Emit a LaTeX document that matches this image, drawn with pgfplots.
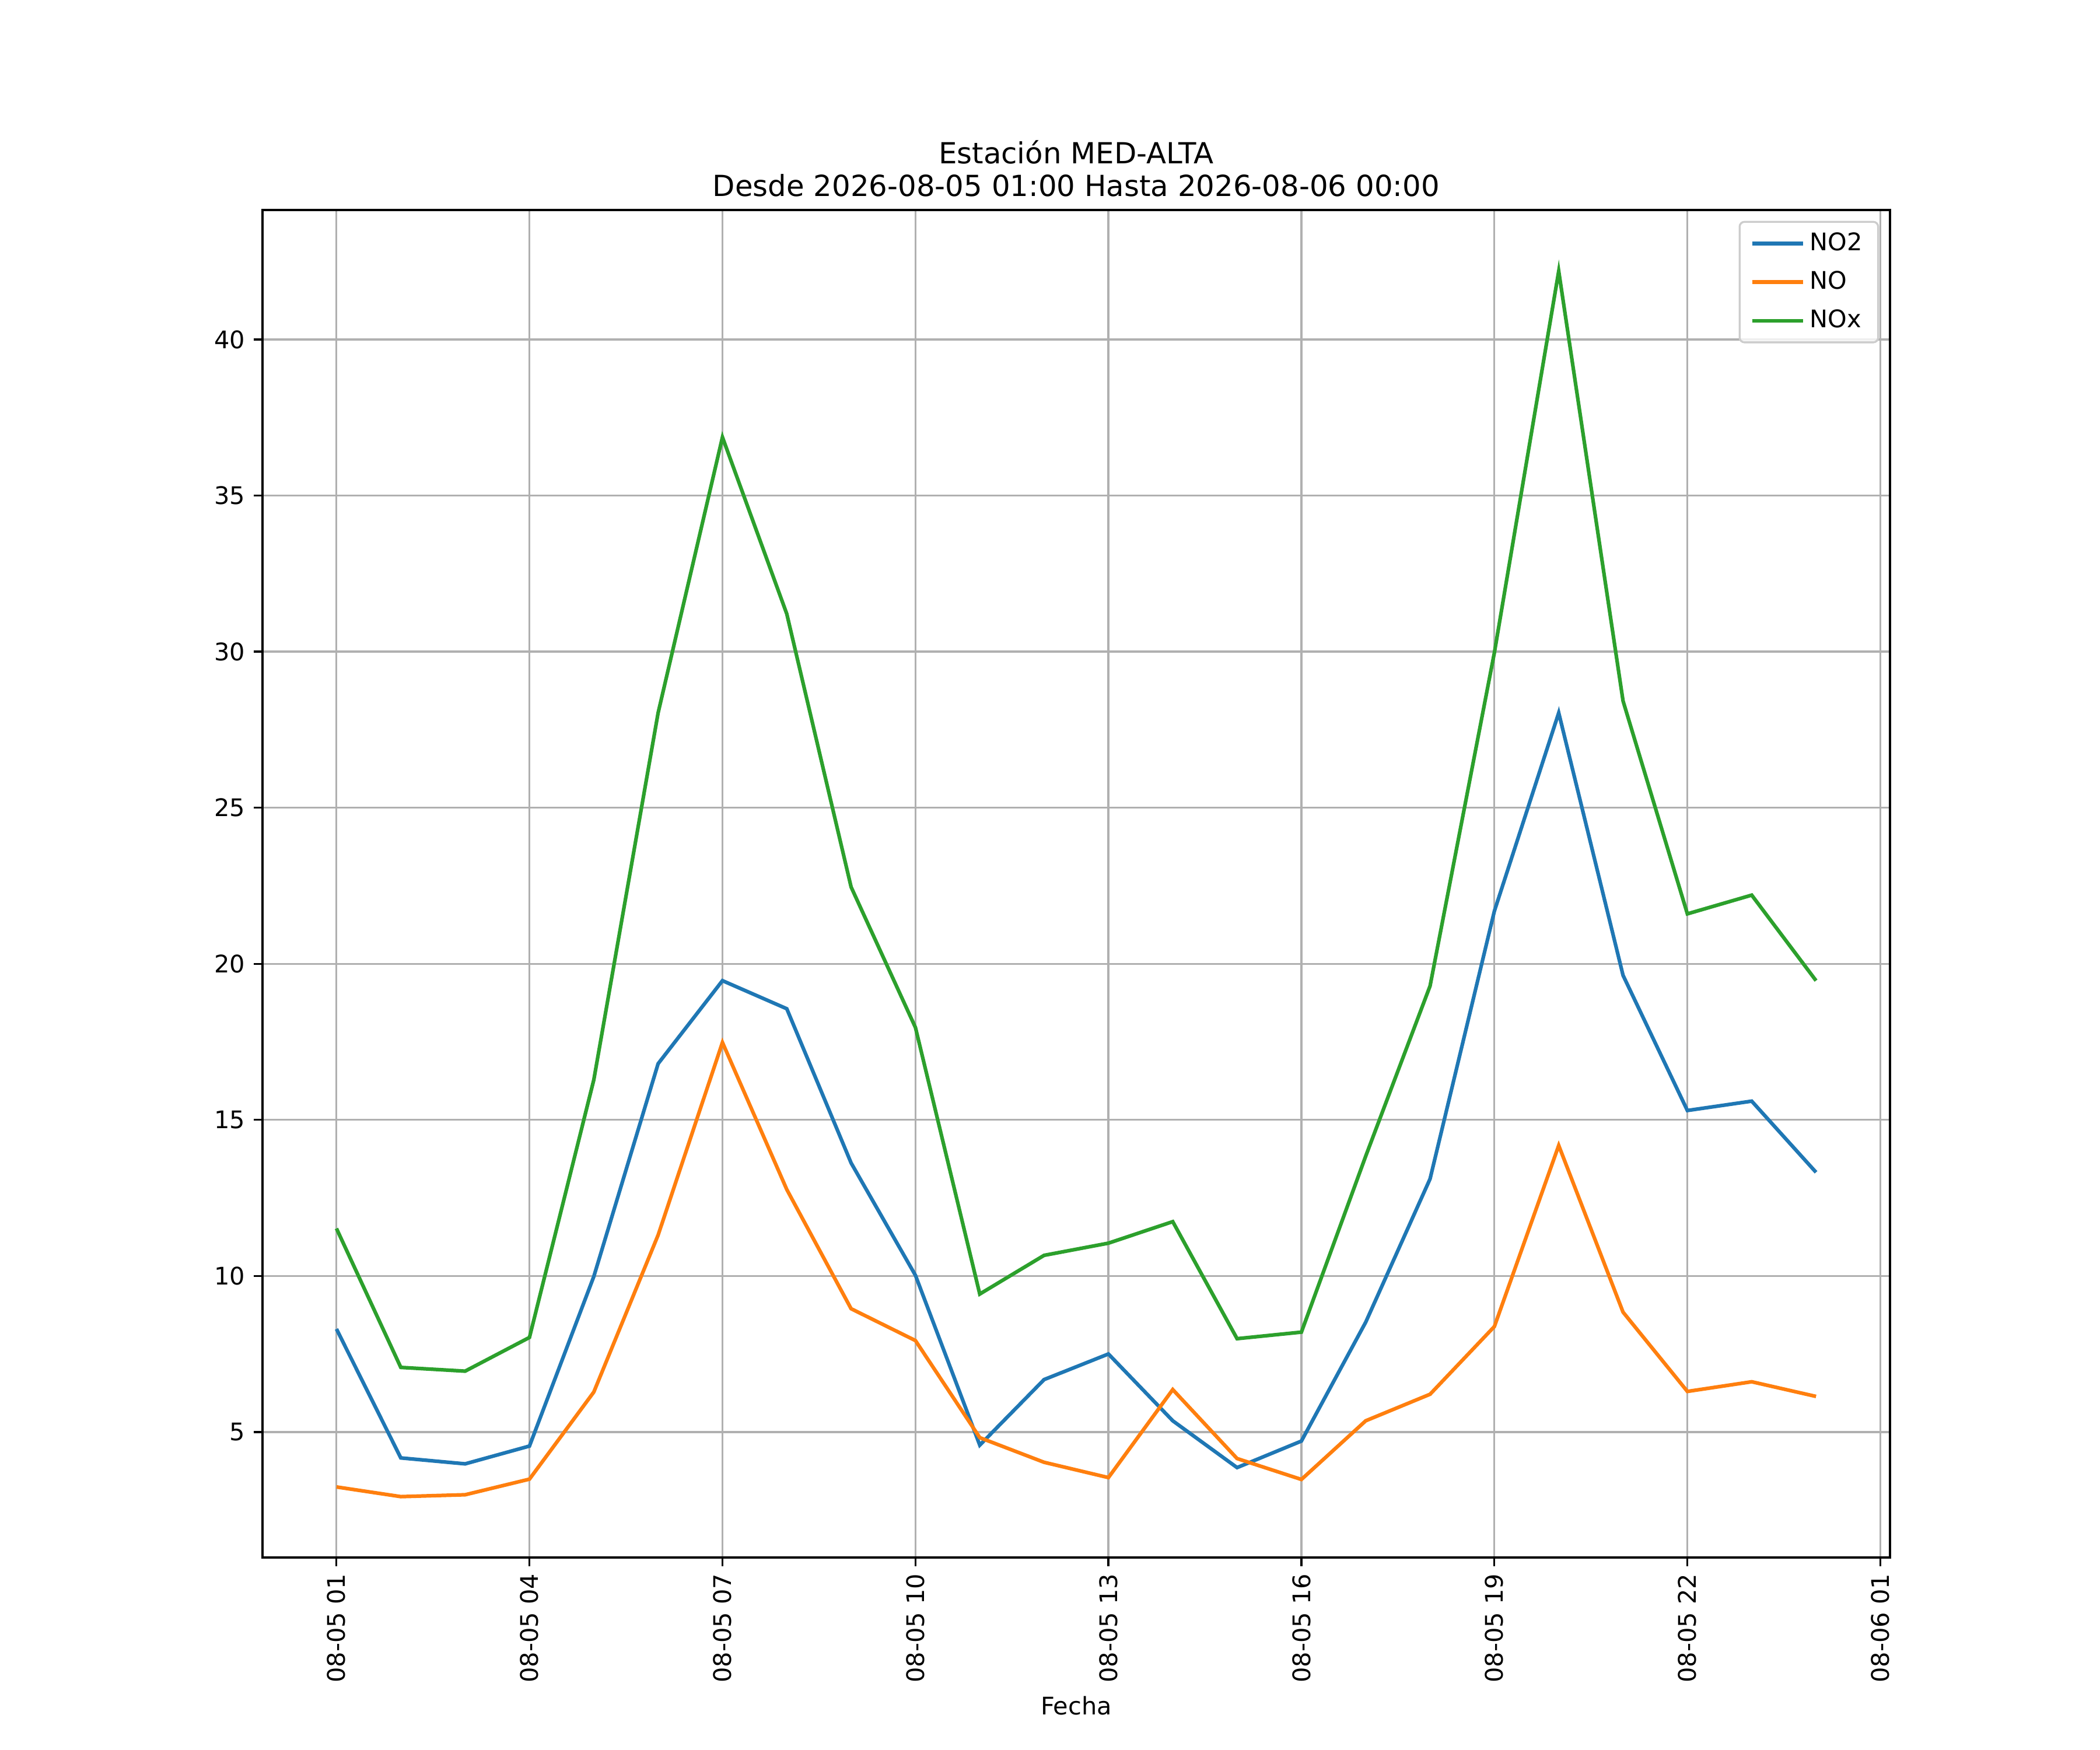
\documentclass[border=0pt]{standalone}
\usepackage{fontspec}
\setmainfont{DejaVu Sans}
\usepackage{pgfplots}
\pgfplotsset{compat=1.18}
\definecolor{tabblue}{HTML}{1F77B4}
\definecolor{taborange}{HTML}{FF7F0E}
\definecolor{tabgreen}{HTML}{2CA02C}
\definecolor{gridgray}{HTML}{B0B0B0}
\definecolor{legedge}{HTML}{CCCCCC}
\begin{document}
\begin{tikzpicture}
\path[use as bounding box] (0,0) rectangle (12in,10in);
\begin{axis}[
  at={(1.5in,1.1in)}, anchor=south west,
  scale only axis, width=9.3in, height=7.7in,
  xmin=-0.15, xmax=25.15, ymin=0.98, ymax=44.15,
  xtick={1,4,7,10,13,16,19,22,25},
  xticklabels={08-05 01,08-05 04,08-05 07,08-05 10,08-05 13,08-05 16,08-05 19,08-05 22,08-06 01},
  ytick={5,10,15,20,25,30,35,40},
  /pgf/number format/assume math mode=true,
  tick align=outside, tick pos=left,
  major tick length=3.5pt,
  every tick/.style={black, line width=0.8pt},
  axis line style={black, line width=0.8pt},
  grid=major,
  major grid style={gridgray, line width=0.8pt},
  tick label style={font=\fontsize{10}{12}\selectfont},
  xticklabel shift=3pt,
  xticklabel style={rotate=90, anchor=east, inner sep=0pt},
  yticklabel style={inner sep=0pt, xshift=-3.5pt},
  xlabel={Fecha},
  xlabel style={font=\fontsize{10}{12}\selectfont, inner sep=0pt, yshift=-5.5pt, anchor=north},
  title={Estación MED-ALTA\\Desde 2026-08-05 01:00 Hasta 2026-08-06 00:00},
  title style={font=\fontsize{12}{13.3}\selectfont, align=center, inner sep=0pt, yshift=-0.6pt, anchor=south},
  legend style={at={(1,1)}, anchor=north east, xshift=-4.5pt, yshift=-4.5pt,
    draw=legedge, line width=0.8pt, rounded corners=2pt, fill=white, fill opacity=0.8, text opacity=1,
    font=\fontsize{10}{12}\selectfont, inner xsep=4.5pt, inner ysep=2.5pt, row sep=3pt,
    cells={anchor=west}},
  legend image code/.code={\draw[#1, line width=1.5pt] (0pt,0pt) -- (21pt,0pt);},
]
\addplot[tabblue, line width=1.5pt] coordinates {
(1,8.30) (2,4.17) (3,3.98) (4,4.55) (5,9.98) (6,16.80) (7,19.46) (8,18.56)
(9,13.62) (10,10.02) (11,4.58) (12,6.68) (13,7.50) (14,5.36) (15,3.86) (16,4.71)
(17,8.52) (18,13.11) (19,21.69) (20,28.04) (21,19.63) (22,15.30) (23,15.60) (24,13.32)};
\addlegendentry{NO2}
\addplot[taborange, line width=1.5pt] coordinates {
(1,3.24) (2,2.93) (3,2.99) (4,3.49) (5,6.28) (6,11.31) (7,17.48) (8,12.77)
(9,8.95) (10,7.93) (11,4.82) (12,4.03) (13,3.54) (14,6.36) (15,4.15) (16,3.48)
(17,5.36) (18,6.21) (19,8.38) (20,14.18) (21,8.84) (22,6.30) (23,6.61) (24,6.14)};
\addlegendentry{NO}
\addplot[tabgreen, line width=1.5pt] coordinates {
(1,11.52) (2,7.07) (3,6.95) (4,8.03) (5,16.28) (6,28.04) (7,36.87) (8,31.21)
(9,22.46) (10,17.96) (11,9.42) (12,10.66) (13,11.05) (14,11.74) (15,7.99) (16,8.20)
(17,13.84) (18,19.29) (19,29.97) (20,42.19) (21,28.42) (22,21.60) (23,22.20) (24,19.46)};
\addlegendentry{NOx}
\end{axis}
\end{tikzpicture}
\end{document}
